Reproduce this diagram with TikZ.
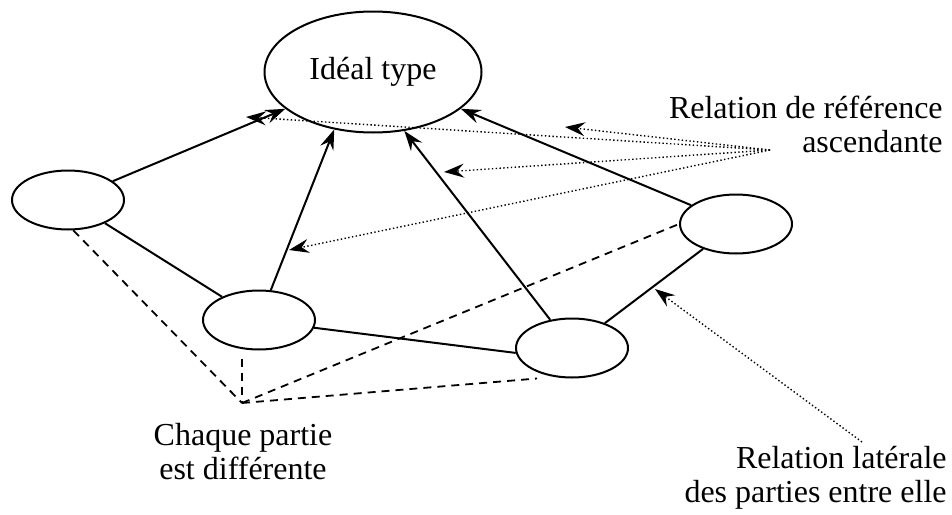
\documentclass[tikz,border=0pt]{standalone}
\usepackage{fontspec}
\setmainfont{Liberation Serif}
\usetikzlibrary{arrows.meta,shapes.geometric}

\begin{document}
\begin{tikzpicture}[
    x=0.5pt, y=-0.5pt,
    font=\fontsize{16}{17}\selectfont,
    part/.style={
% The shape:
ellipse,
% The size:
      minimum width=56pt, minimum height=29.5pt,
      inner sep=0pt,
% The border:
      draw, line width=1pt
    },
    link/.style={line width=1pt},
    ascent/.style={link, -{Stealth[length=10pt,width=7pt,inset=3.5pt]}},
    pointer/.style={dash pattern=on 0.7pt off 1.2pt, line width=0.7pt,
      -{Stealth[length=10pt,width=7pt,inset=3.5pt]}},
    differ/.style={dash pattern=on 4pt off 3pt, line width=0.9pt},
    caption/.style={align=center, inner sep=0pt}
  ]
  \useasboundingbox (0,0) rectangle (952,514);
  % the ideal type and its parts
  \node [part, minimum width=108.5pt, minimum height=60.5pt] (ideal) at (373,72) {Idéal type};
  \node [part] (p1) at (68,200) {};
  \node [part] (p2) at (259,320) {};
  \node [part] (p3) at (572,348) {};
  \node [part] (p4) at (736,224) {};
  % free ends
  \coordinate (apex) at (242,403);
  \coordinate (ref) at (770,150);
  \coordinate (lat) at (862,442);
  \coordinate (t1) at (565,127);
  \coordinate (t2) at (246,117);
  \coordinate (t3) at (444,172);
  \coordinate (t4) at (289,250);
  \coordinate (t5) at (655,289);
  % ascending links
  \draw [ascent] (p1) -- (ideal);
  \draw [ascent] (p2) -- (ideal.236);
  \draw [ascent] (p3) -- (ideal.298);
  \draw [ascent] (p4) -- (ideal);
  % lateral links
  \draw [link] (p1) -- (p2);
  \draw [link] (p2.-8) -- (p3.185);
  \draw [link] (p3) -- (p4);
  % differences
  \draw [differ] (p1.280) -- (apex);
  \draw [differ] ([yshift=-4pt]p2.south -| apex) -- (apex);
  \draw [differ] (apex) -- (p4.west);
  \draw [differ] (apex) -- ([xshift=-17.5pt]p3.south);
  % pointers
  \foreach \t in {t1,t2,t3,t4}
    \draw [pointer] (ref) -- (\t);
  \draw [pointer] (lat) -- (t5);
  % labels
  \node [caption, anchor=base east, align=right] (asc) at (943,152) {Relation de référence\\ascendante};
  \node [caption, anchor=base] (diff) at (243,479) {Chaque partie\\est différente};
  \node [caption, anchor=base east, align=right] (side) at (947,502) {Relation latérale\\des parties entre elle};
\end{tikzpicture}
\end{document}
